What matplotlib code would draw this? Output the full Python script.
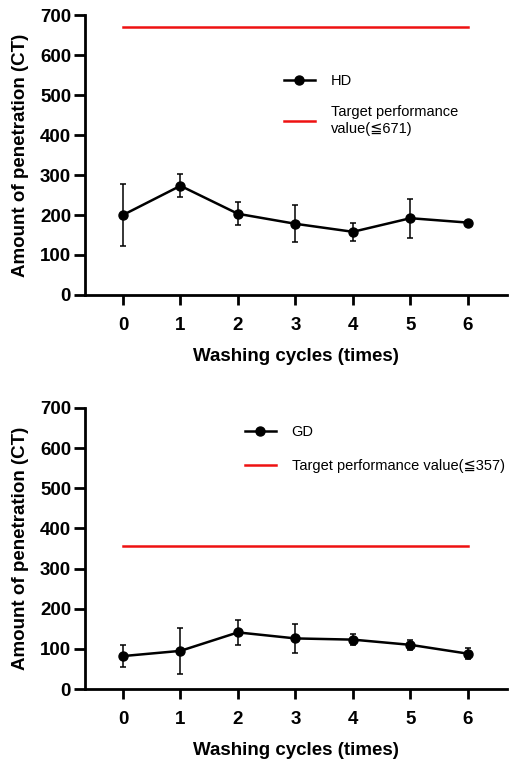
import numpy as np
import matplotlib
matplotlib.use("Agg")
import matplotlib.pyplot as plt

plt.rcParams['font.family'] = ['Liberation Sans', 'DejaVu Sans']

cycles = [0, 1, 2, 3, 4, 5, 6]

hd_mean = [200, 273, 203, 178, 158, 192, 181]
hd_err = [78, 29, 29, 46, 23, 49, 5]
hd_target = 671

gd_mean = [82, 95, 141, 126, 123, 110, 88]
gd_err = [27, 58, 31, 36, 14, 12, 13]
gd_target = 357

yticks = [0, 100, 200, 300, 400, 500, 600, 700]

fig = plt.figure(figsize=(5.12, 7.61), dpi=100)
ax1 = fig.add_axes([85/512, 1-295/761, 422/512, 280/761])
ax2 = fig.add_axes([85/512, 1-689/761, 422/512, 281/761])


def panel(ax, mean, err, target, name, tlabel, leg_xy, spacing):
    ax.errorbar(cycles, mean, yerr=err, fmt='none', ecolor='black',
                elinewidth=1.1, capsize=2.5, capthick=1.1, zorder=3)
    ax.plot(cycles, mean, color='black', lw=1.8, marker='o', ms=6.5, label=name, zorder=4)
    ax.plot(cycles, [target] * len(cycles), color='#ee1111', lw=1.8, label=tlabel)
    ax.set_xlim(-0.66, 6.68)
    ax.set_ylim(0, 700)
    ax.set_yticks(yticks)
    ax.set_xticks(cycles)
    for s in ['top', 'right']:
        ax.spines[s].set_visible(False)
    for s in ['left', 'bottom']:
        ax.spines[s].set_linewidth(2)
    ax.tick_params(axis='y', length=8, width=2, labelsize=13.5, pad=2)
    ax.tick_params(axis='x', length=7, width=2, labelsize=13.5, pad=9)
    for lab in ax.get_xticklabels() + ax.get_yticklabels():
        lab.set_fontweight('bold')
    ax.set_xlabel('Washing cycles (times)', fontsize=13.5, fontweight='bold', labelpad=10)
    ax.set_ylabel('Amount of penetration (CT)', fontsize=13.5, fontweight='bold', labelpad=8)
    ax.legend(loc='upper left', bbox_to_anchor=leg_xy, frameon=False, fontsize=10.5,
              handlelength=2.1, handletextpad=1.1, borderpad=0, borderaxespad=0,
              labelspacing=spacing)


panel(ax1, hd_mean, hd_err, hd_target, 'HD', 'Target performance\nvalue(≦671)',
      (0.4716, 0.79), 1.2)
panel(ax2, gd_mean, gd_err, gd_target, 'GD', 'Target performance value(≦357)',
      (0.379, 0.94), 1.4)

fig.savefig('out.png', dpi=100)
